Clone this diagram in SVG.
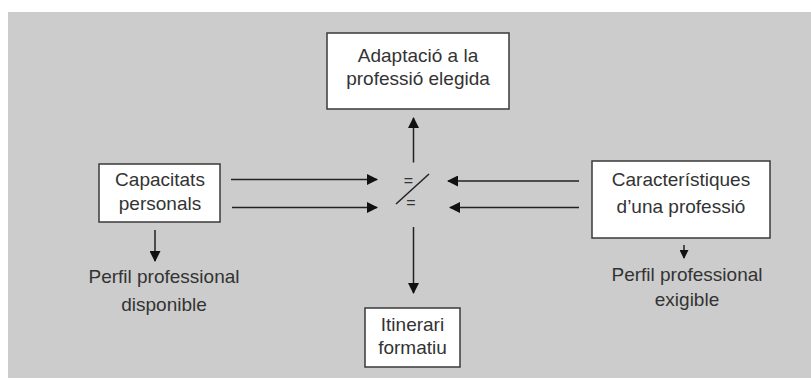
<svg xmlns="http://www.w3.org/2000/svg" width="811" height="380" viewBox="0 0 811 380">
<defs>
<style>
.box{fill:#fff;stroke:#3a3a3a;stroke-width:1.5}
.t{font-family:"Liberation Sans",Arial,sans-serif;font-size:19px;fill:#333;text-anchor:middle}
.c{stroke:#222;stroke-width:1.5;fill:none}
.eq{font-family:"Liberation Sans",Arial,sans-serif;font-size:16px;fill:#333;text-anchor:middle}
</style>
<marker id="ah" markerUnits="userSpaceOnUse" markerWidth="11" markerHeight="11" refX="10" refY="5.5" orient="auto">
<path d="M0,0 L11,5.5 L0,11 z" fill="#111"/>
</marker>
<marker id="ahs" markerUnits="userSpaceOnUse" markerWidth="9" markerHeight="9" refX="8" refY="4.5" orient="auto">
<path d="M0,0 L9,4.5 L0,9 z" fill="#111"/>
</marker>
</defs>
<rect x="8" y="12" width="803" height="366" fill="#cccccc"/>
<g id="adaptacio">
<rect class="box" x="327" y="33" width="182" height="76"/>
<text class="t" x="418" y="62">Adaptació a la</text>
<text class="t" x="418" y="85">professió elegida</text>
</g>
<g id="capacitats">
<rect class="box" x="99" y="164" width="121" height="58"/>
<text class="t" x="160" y="186">Capacitats</text>
<text class="t" x="160" y="210">personals</text>
</g>
<g id="caracteristiques">
<rect class="box" x="592" y="161" width="178" height="77"/>
<text class="t" x="681" y="186">Característiques</text>
<text class="t" x="681" y="213">d’una professió</text>
</g>
<g id="itinerari">
<rect class="box" x="365" y="308" width="95" height="59"/>
<text class="t" x="412.5" y="331">Itinerari</text>
<text class="t" x="412.5" y="354">formatiu</text>
</g>
<g id="perfil-disponible">
<text class="t" x="164" y="283">Perfil professional</text>
<text class="t" x="164" y="311">disponible</text>
</g>
<g id="perfil-exigible">
<text class="t" x="687" y="281">Perfil professional</text>
<text class="t" x="687" y="306">exigible</text>
</g>
<g id="comparacio">
<text class="eq" x="408.5" y="186">=</text>
<line class="c" x1="396" y1="204" x2="429" y2="174"/>
<text class="eq" x="411" y="208">=</text>
</g>
<g id="connectors">
<line class="c" x1="231" y1="179.5" x2="377" y2="179.5" marker-end="url(#ah)"/>
<line class="c" x1="232" y1="207.5" x2="377" y2="207.5" marker-end="url(#ah)"/>
<line class="c" x1="579" y1="181" x2="448" y2="181" marker-end="url(#ah)"/>
<line class="c" x1="579" y1="207.5" x2="450" y2="207.5" marker-end="url(#ah)"/>
<line class="c" x1="413.5" y1="162.5" x2="413.5" y2="118" marker-end="url(#ah)"/>
<line class="c" x1="413.5" y1="227" x2="413.5" y2="293" marker-end="url(#ah)"/>
<line class="c" x1="155" y1="230" x2="155" y2="261" marker-end="url(#ah)"/>
<line class="c" x1="684" y1="245" x2="684" y2="258" marker-end="url(#ahs)"/>
</g>
</svg>
